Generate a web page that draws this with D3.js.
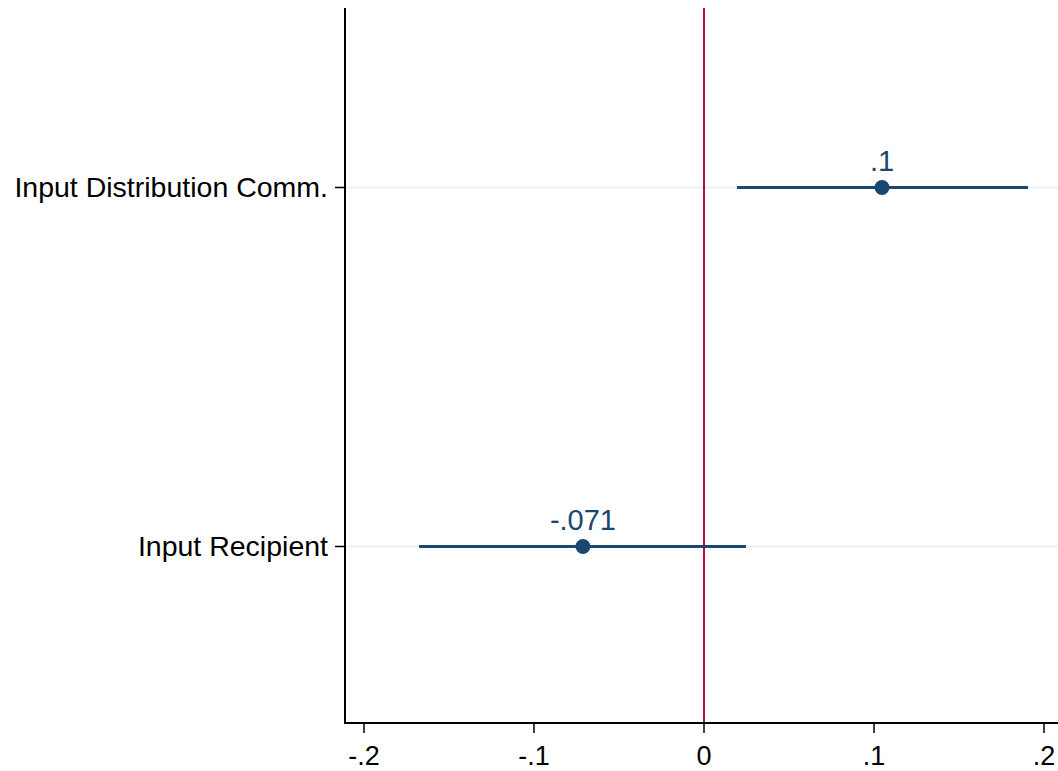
<!DOCTYPE html>
<html><head><meta charset="utf-8">
<script src="https://cdn.jsdelivr.net/npm/d3@7"></script>
<style>body{margin:0;background:#fff}svg{display:block}text{font-family:"Liberation Sans",Arial,sans-serif}</style>
</head><body><svg id="c" width="1058" height="771"></svg>
<script>
const categories = ["Input Distribution Comm.", "Input Recipient"];
const estimates = [0.1047, -0.0712];
const ciLow = [0.0194, -0.1676];
const ciHigh = [0.1906, 0.0247];
const pointLabels = [".1", "-.071"];
const xTicks = [-0.2, -0.1, 0, 0.1, 0.2];
const xTickLabels = ["-.2", "-.1", "0", ".1", ".2"];

(function(){
const svg = d3.select("#c");
const navy = "#1a476f", red = "#c10534";
const pL = 345, pR = 1058, pT = 8, pB = 723;
const x = d3.scaleLinear().domain([-0.2, 0.2]).range([364, 1044]);
const y = d3.scaleLinear().domain([-0.5, 1.5]).range([pT, 726]);

svg.selectAll("line.grid").data(categories).join("line")
  .attr("x1", pL).attr("x2", pR)
  .attr("y1", (d,i)=>y(i)).attr("y2", (d,i)=>y(i))
  .attr("stroke", "#eaf2f3").attr("stroke-width", 2);

svg.append("line").attr("x1", x(0)).attr("x2", x(0)).attr("y1", pT).attr("y2", pB)
  .attr("stroke", red).attr("stroke-width", 2);

svg.selectAll("line.ci").data(categories).join("line")
  .attr("x1", (d,i)=>x(ciLow[i])).attr("x2", (d,i)=>x(ciHigh[i]))
  .attr("y1", (d,i)=>y(i)).attr("y2", (d,i)=>y(i))
  .attr("stroke", navy).attr("stroke-width", 3);

svg.selectAll("circle.pt").data(categories).join("circle")
  .attr("cx", (d,i)=>x(estimates[i])).attr("cy", (d,i)=>y(i)).attr("r", 7.5)
  .attr("fill", navy);

svg.selectAll("text.lab").data(categories).join("text")
  .attr("x", (d,i)=>x(estimates[i])).attr("y", (d,i)=>y(i)-17)
  .attr("text-anchor", "middle").attr("fill", navy).attr("font-size", 29)
  .text((d,i)=>pointLabels[i]);

svg.append("line").attr("x1", pL).attr("x2", pL).attr("y1", pT).attr("y2", pB+1)
  .attr("stroke", "#000").attr("stroke-width", 2);
svg.selectAll("line.yt").data(categories).join("line")
  .attr("x1", pL-10).attr("x2", pL).attr("y1", (d,i)=>y(i)).attr("y2", (d,i)=>y(i))
  .attr("stroke", "#000").attr("stroke-width", 1.5);
svg.selectAll("text.yl").data(categories).join("text")
  .attr("x", pL-17).attr("y", (d,i)=>y(i)).attr("dy", "0.35em")
  .attr("text-anchor", "end").attr("font-size", 28.5).attr("fill", "#000")
  .text(d=>d);

svg.append("line").attr("x1", pL-1).attr("x2", pR).attr("y1", pB).attr("y2", pB)
  .attr("stroke", "#000").attr("stroke-width", 2);
svg.selectAll("line.xt").data(xTicks).join("line")
  .attr("x1", d=>x(d)).attr("x2", d=>x(d)).attr("y1", pB).attr("y2", pB+10)
  .attr("stroke", "#000").attr("stroke-width", 1.5);
svg.selectAll("text.xl").data(xTicks).join("text")
  .attr("x", d=>x(d)).attr("y", 765)
  .attr("text-anchor", "middle").attr("font-size", 27).attr("fill", "#000")
  .text((d,i)=>xTickLabels[i]);
})();
</script></body></html>
